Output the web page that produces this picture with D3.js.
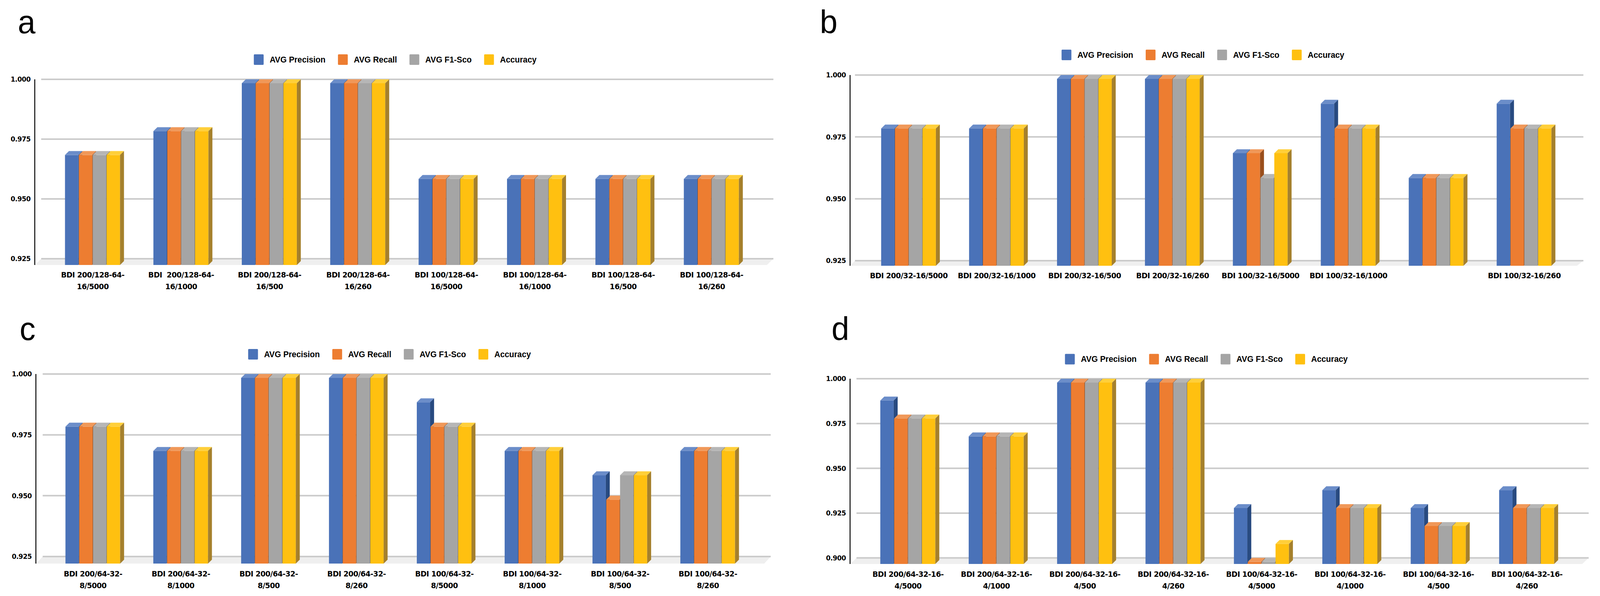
<!DOCTYPE html>
<html>
<head>
<meta charset="utf-8">
<script src="https://cdn.jsdelivr.net/npm/d3@7"></script>
<style>
html,body{margin:0;padding:0;background:#fff;overflow:hidden}
.Chart svg{display:block;width:100vw;height:100vh}
text{white-space:pre}
</style>
</head>
<body>
<div class="Chart"></div>
<script>
// series names (legend)
const seriesNames=['AVG Precision','AVG Recall','AVG F1-Sco','Accuracy']

// panel a
const categoriesA=['BDI 200/128-64-16/5000','BDI  200/128-64-16/1000','BDI 200/128-64-16/500','BDI 200/128-64-16/260',
	'BDI 100/128-64-16/5000','BDI 100/128-64-16/1000','BDI 100/128-64-16/500','BDI 100/128-64-16/260']
const precisionA=[0.97,0.98,1.00,1.00,0.96,0.96,0.96,0.96]
const recallA=[0.97,0.98,1.00,1.00,0.96,0.96,0.96,0.96]
const f1A=[0.97,0.98,1.00,1.00,0.96,0.96,0.96,0.96]
const accuracyA=[0.97,0.98,1.00,1.00,0.96,0.96,0.96,0.96]

// panel b
const categoriesB=['BDI 200/32-16/5000','BDI 200/32-16/1000','BDI 200/32-16/500','BDI 200/32-16/260',
	'BDI 100/32-16/5000','BDI 100/32-16/1000','','BDI 100/32-16/260']
const precisionB=[0.98,0.98,1.00,1.00,0.97,0.99,0.96,0.99]
const recallB=[0.98,0.98,1.00,1.00,0.97,0.98,0.96,0.98]
const f1B=[0.98,0.98,1.00,1.00,0.96,0.98,0.96,0.98]
const accuracyB=[0.98,0.98,1.00,1.00,0.97,0.98,0.96,0.98]

// panel c
const categoriesC=['BDI 200/64-32-8/5000','BDI 200/64-32-8/1000','BDI 200/64-32-8/500','BDI 200/64-32-8/260',
	'BDI 100/64-32-8/5000','BDI 100/64-32-8/1000','BDI 100/64-32-8/500','BDI 100/64-32-8/260']
const precisionC=[0.98,0.97,1.00,1.00,0.99,0.97,0.96,0.97]
const recallC=[0.98,0.97,1.00,1.00,0.98,0.97,0.95,0.97]
const f1C=[0.98,0.97,1.00,1.00,0.98,0.97,0.96,0.97]
const accuracyC=[0.98,0.97,1.00,1.00,0.98,0.97,0.96,0.97]

// panel d
const categoriesD=['BDI 200/64-32-16-4/5000','BDI 200/64-32-16-4/1000','BDI 200/64-32-16-4/500','BDI 200/64-32-16-4/260',
	'BDI 100/64-32-16-4/5000','BDI 100/64-32-16-4/1000','BDI 100/64-32-16-4/500','BDI 100/64-32-16-4/260']
const precisionD=[0.99,0.97,1.00,1.00,0.93,0.94,0.93,0.94]
const recallD=[0.98,0.97,1.00,1.00,0.90,0.93,0.92,0.93]
const f1D=[0.98,0.97,1.00,1.00,0.90,0.93,0.92,0.93]
const accuracyD=[0.98,0.97,1.00,1.00,0.91,0.93,0.92,0.93]

// y ticks
const ticksABC=[0.925,0.950,0.975,1.000]
const ticksD=[0.900,0.925,0.950,0.975,1.000]

// colours: front, top, side
const colors=[
	{front:'#4A72B8',top:'#6B8DC9',side:'#284A80'},
	{front:'#ED7D31',top:'#F09859',side:'#9A4E1C'},
	{front:'#A5A5A5',top:'#B6B6B6',side:'#6E6E6E'},
	{front:'#FFC010',top:'#FFCF3A',side:'#A5802C'}
]

const W=4235, H=1525
const dx=10.5, dy=10

// drawn in a fixed 4235x1525 box, stretched to fill the viewport
const svg=d3.select('.Chart').append('svg')
	.attr('viewBox','0 0 '+W+' '+H)
	.attr('preserveAspectRatio','none')

svg.append('rect').attr('width',W).attr('height',H).attr('fill','#fff')

const panels=[
	{letter:'a',cats:categoriesA,vals:[precisionA,recallA,f1A,accuracyA],ticks:ticksABC,wrap:true,
		letterX:47,letterY:85,legendCx:1046,legendCy:152.5,axisX:92,gridX:[109,2047],
		yTop:203,yBot:662,floorBottom:678,band:[128.5,2000.5],labelY:710},
	{letter:'b',cats:categoriesB,vals:[precisionB,recallB,f1B,accuracyB],ticks:ticksABC,wrap:false,
		letterX:2170,letterY:85,legendCx:3184,legendCy:140.5,axisX:2250,gridX:[2263,4191],
		yTop:192,yBot:667,floorBottom:680,band:[2289,4151],labelY:712},
	{letter:'c',cats:categoriesC,vals:[precisionC,recallC,f1C,accuracyC],ticks:ticksABC,wrap:true,
		letterX:52,letterY:870,legendCx:1031,legendCy:906.5,axisX:95,gridX:[113,2040],
		yTop:957,yBot:1424,floorBottom:1442,band:[130,1990],labelY:1475},
	{letter:'d',cats:categoriesD,vals:[precisionD,recallD,f1D,accuracyD],ticks:ticksD,wrap:true,
		letterX:2201,letterY:870,legendCx:3193,legendCy:919,axisX:2250,gridX:[2267,4205],
		yTop:969,yBot:1427.6,floorBottom:1443,band:[2286.5,4158.5],labelY:1476}
]

const fmt=d3.format('.3f')
const labelFont='"DejaVu Sans", Verdana, sans-serif'
const legendFont='"Liberation Sans", Arial, sans-serif'

function drawPanel(p){
	const g=svg.append('g')

	g.append('text')
		.attr('x',p.letterX)
		.attr('y',p.letterY)
		.attr('font-family',legendFont)
		.attr('font-size',84)
		.attr('fill','#000')
		.text(p.letter)

	const yScale=d3.scaleLinear()
		.domain(d3.extent(p.ticks))
		.range([p.yBot,p.yTop])

	const n=p.cats.length
	const x0=d3.scaleBand()
		.domain(d3.range(n))
		.range(p.band)
		.paddingInner(0.372)
		.paddingOuter(0.186)
	const x1=d3.scaleBand()
		.domain(d3.range(seriesNames.length))
		.range([0,x0.bandwidth()])

	// floor
	g.append('polygon')
		.attr('points',[[p.gridX[0],p.yBot],[p.gridX[1],p.yBot],[p.gridX[1]-17,p.floorBottom],[p.axisX+1,p.floorBottom]].join(' '))
		.attr('fill','#EFEFEF')

	// gridlines
	g.selectAll('.grid')
		.data(p.ticks)
		.enter()
		.append('line')
		.attr('class','grid')
		.attr('x1',p.gridX[0])
		.attr('x2',p.gridX[1])
		.attr('y1',d=>yScale(d))
		.attr('y2',d=>yScale(d))
		.attr('stroke','#CBCBCB')
		.attr('stroke-width',4)

	// y axis line
	g.append('line')
		.attr('x1',p.axisX).attr('x2',p.axisX)
		.attr('y1',p.yTop).attr('y2',p.floorBottom)
		.attr('stroke','#000')
		.attr('stroke-width',2.5)

	// tick labels
	g.selectAll('.tick-label')
		.data(p.ticks)
		.enter()
		.append('text')
		.attr('class','tick-label')
		.attr('x',p.axisX-11)
		.attr('y',d=>yScale(d))
		.attr('dy','0.36em')
		.attr('text-anchor','end')
		.attr('font-family',labelFont)
		.attr('font-weight','bold')
		.attr('font-size',17.5)
		.attr('letter-spacing',-0.5)
		.text(d=>fmt(d))

	// bars (left to right so side faces are overlapped properly)
	const bars=[]
	for(let i=0;i<n;i++){
		for(let j=0;j<seriesNames.length;j++){
			bars.push({i,j,v:p.vals[j][i]})
		}
	}
	const w=x1.bandwidth()-1.3
	const bar=g.selectAll('.bar')
		.data(bars)
		.enter()
		.append('g')
		.attr('class','bar')

	bar.append('rect')
		.attr('x',d=>x0(d.i)+x1(d.j))
		.attr('y',d=>yScale(d.v)+dy)
		.attr('width',w)
		.attr('height',d=>p.floorBottom-yScale(d.v)-dy)
		.attr('fill',d=>colors[d.j].front)

	bar.append('polygon')
		.attr('points',d=>{
			const x=x0(d.i)+x1(d.j), y=yScale(d.v)+dy
			return [[x,y],[x+dx,y-dy],[x+w+dx,y-dy],[x+w,y]].join(' ')
		})
		.attr('fill',d=>colors[d.j].top)

	bar.append('polygon')
		.attr('points',d=>{
			const x=x0(d.i)+x1(d.j)+w, y=yScale(d.v)+dy
			return [[x,y],[x+dx,y-dy],[x+dx,p.floorBottom-dy],[x,p.floorBottom]].join(' ')
		})
		.attr('fill',d=>colors[d.j].side)

	// category labels
	const labels=g.selectAll('.cat-label')
		.data(p.cats)
		.enter()
		.append('text')
		.attr('class','cat-label')
		.attr('text-anchor','middle')
		.attr('font-family',labelFont)
		.attr('font-weight','bold')
		.attr('font-size',19.5)
		.attr('letter-spacing',-0.6)
		.attr('fill','#000')

	labels.each(function(d,i){
		const cx=x0(i)+x0.bandwidth()/2
		let lines=[d]
		if(p.wrap){
			const k=d.lastIndexOf('-')
			lines=[d.slice(0,k+1),d.slice(k+1)]
		}
		d3.select(this).selectAll('tspan')
			.data(lines)
			.enter()
			.append('tspan')
			.attr('x',cx)
			.attr('y',(t,k)=>p.labelY+k*30)
			.text(t=>t)
	})

	// legend
	const leg=g.append('g')
	let cursor=0
	seriesNames.forEach((name,j)=>{
		leg.append('rect')
			.attr('x',cursor)
			.attr('y',p.legendCy-13.5)
			.attr('width',26)
			.attr('height',27)
			.attr('rx',2)
			.attr('fill',colors[j].front)
		const t=leg.append('text')
			.attr('x',cursor+42)
			.attr('y',p.legendCy+7.5)
			.attr('font-family',legendFont)
			.attr('font-weight','bold')
			.attr('font-size',21.5)
			.attr('fill','#000')
			.text(name)
		cursor+=42+t.node().getComputedTextLength()+33
	})
	const legW=cursor-33
	leg.attr('transform','translate('+(p.legendCx-legW/2)+',0)')
}

panels.forEach(drawPanel)
</script>
</body>
</html>
